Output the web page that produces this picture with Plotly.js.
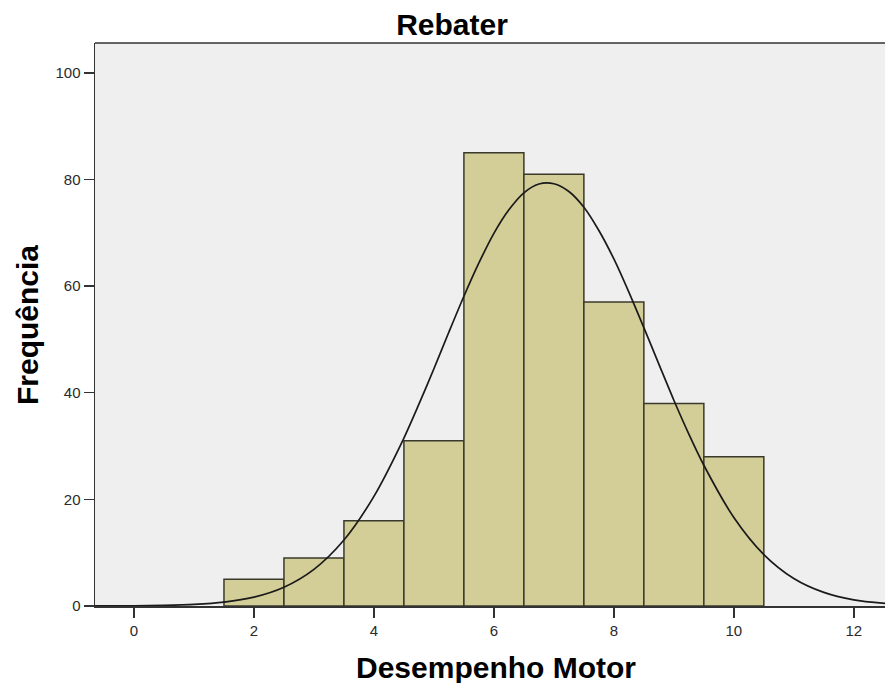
<!DOCTYPE html>
<html>
<head>
<meta charset="utf-8">
<script src="https://cdn.plot.ly/plotly-3.0.1.min.js"></script>
<style>html,body{margin:0;padding:0;background:#fff;}#chart{width:885px;height:683px;}</style>
</head>
<body>
<div id="chart"></div>
<script>
// Histogram bins (centers) and frequencies
const binCenters = [2, 3, 4, 5, 6, 7, 8, 9, 10];
const frequencies = [5, 9, 16, 31, 85, 81, 57, 38, 28];
// Normal curve
const curveX = [-0.65, 0, 0.5, 1, 1.5, 2, 2.5, 3, 3.5, 4, 4.5, 4.75, 5, 5.25, 5.5, 5.75, 6, 6.25, 6.5, 6.75, 7, 7.25, 7.5, 7.75, 8, 8.25, 8.5, 8.75, 9, 9.25, 9.5, 10, 10.5, 11, 11.5, 12, 12.55];
const curveY = [0.01, 0.04, 0.11, 0.29, 0.72, 1.66, 3.52, 6.87, 12.37, 20.57, 31.5, 37.85, 44.5, 51.39, 58.1, 64.35, 69.9, 74.31, 77.5, 79.15, 79.2, 77.75, 74.8, 70.44, 65.1, 58.87, 52.2, 45.37, 38.6, 32.25, 26.4, 16.6, 9.65, 5.16, 2.55, 1.16, 0.45];
const xTicks = [0, 2, 4, 6, 8, 10, 12];
const yTicks = [0, 20, 40, 60, 80, 100];

const traces = [
  {
    type: 'bar', x: binCenters, y: frequencies, width: 1,
    marker: {color: '#d3cd98', line: {color: '#3a3a2c', width: 1.5}},
    hoverinfo: 'x+y'
  },
  {
    type: 'scatter', mode: 'lines', x: curveX, y: curveY,
    line: {color: '#1a1a1a', width: 1.7, shape: 'spline', smoothing: 0.8},
    hoverinfo: 'skip'
  }
];

const FONT = 'Arial, Liberation Sans, sans-serif';
const tickFont = {family: FONT, size: 15, color: '#2a2a2a'};
const layout = {
  width: 885, height: 683,
  margin: {l: 95, r: 0, t: 43, b: 77, pad: 0},
  paper_bgcolor: '#ffffff', plot_bgcolor: '#efefef',
  showlegend: false,
  bargap: 0,
  title: {text: '<b>Rebater</b>', x: 452 / 885, xref: 'container', xanchor: 'center', y: 1 - 24 / 683, yref: 'container', yanchor: 'middle',
    font: {family: FONT, size: 30, color: '#000'}},
  xaxis: {
    range: [-0.65, 12.52], tickvals: xTicks, ticktext: xTicks.map(String),
    ticks: 'outside', ticklen: 10, tickwidth: 1.5, tickcolor: '#333',
    showline: true, linecolor: '#333', linewidth: 1.5, mirror: false,
    showgrid: false, zeroline: false, tickfont: tickFont
  },
  yaxis: {
    range: [0, 105.6], tickvals: yTicks, ticktext: yTicks.map(String),
    ticks: 'outside', ticklen: 10, tickwidth: 1.5, tickcolor: '#333',
    showline: true, linecolor: '#333', linewidth: 1.5,
    showgrid: false, zeroline: false, tickfont: tickFont
  },
  shapes: [
    {type: 'line', xref: 'paper', yref: 'paper', x0: 0, x1: 1, y0: 1, y1: 1, line: {color: '#333', width: 1.5}}
  ],
  annotations: [
    {text: '<b>Desempenho Motor</b>', xref: 'paper', yref: 'paper', x: (496 - 95) / 790, y: (606 - 667) / 563, xanchor: 'center', yanchor: 'middle', showarrow: false,
      font: {family: FONT, size: 30, color: '#000'}},
    {text: '<b>Frequência</b>', xref: 'paper', yref: 'paper', x: (27.5 - 95) / 790, y: (606 - 325.5) / 563, xanchor: 'center', yanchor: 'middle', textangle: -90, showarrow: false,
      font: {family: FONT, size: 30, color: '#000'}}
  ]
};

Plotly.newPlot('chart', traces, layout, {displayModeBar: false, staticPlot: true});
</script>
</body>
</html>
